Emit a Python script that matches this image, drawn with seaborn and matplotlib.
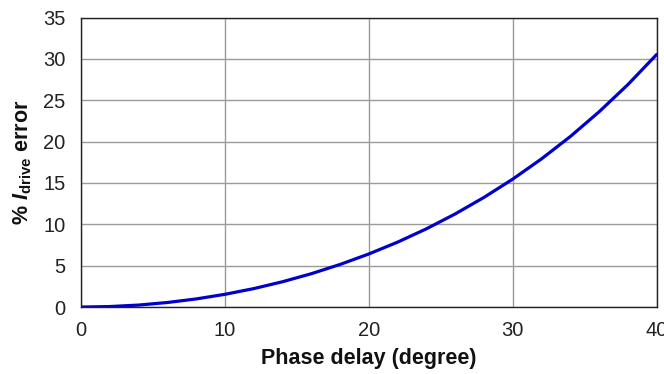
import matplotlib
matplotlib.use("Agg")
import matplotlib.pyplot as plt
import seaborn as sns
import pandas as pd

phase_delay = [0, 2, 4, 6, 8, 10, 12, 14, 16, 18, 20, 22, 24, 26, 28, 30, 32, 34, 36, 38, 40]
pct_error = [0.0, 0.06, 0.24, 0.55, 0.98, 1.54, 2.23, 3.06, 4.03, 5.15, 6.42,
             7.85, 9.46, 11.26, 13.26, 15.47, 17.92, 20.62, 23.61, 26.90, 30.54]
x_ticks = [0, 10, 20, 30, 40]
y_ticks = [0, 5, 10, 15, 20, 25, 30, 35]

sns.set_theme(style="white")
plt.rcParams['font.family'] = ['Liberation Sans', 'DejaVu Sans']
plt.rcParams['mathtext.fontset'] = 'custom'
plt.rcParams['mathtext.rm'] = 'Liberation Sans:bold'
plt.rcParams['mathtext.it'] = 'Liberation Sans:italic:bold'
plt.rcParams['mathtext.bf'] = 'Liberation Sans:bold'

df = pd.DataFrame({"phase": phase_delay, "err": pct_error})

fig = plt.figure(figsize=(6.64, 3.74), dpi=100)
ax = fig.add_axes([0.122, 0.179, 0.867, 0.774])
sns.lineplot(data=df, x="phase", y="err", ax=ax, color="#0000CC", linewidth=2.3)

ax.set_xlim(0, 40)
ax.set_ylim(0, 35)
ax.set_xticks(x_ticks)
ax.set_yticks(y_ticks)
ax.grid(True, color="#9a9a9a", linewidth=1.0)
ax.set_axisbelow(True)
for s in ax.spines.values():
    s.set_color("#222222")
    s.set_linewidth(1.0)
ax.tick_params(axis="x", length=0, labelsize=14.5, colors="#222222", pad=10)
ax.tick_params(axis="y", length=0, labelsize=14.5, colors="#222222", pad=11)
ax.set_xlabel("Phase delay (degree)", fontsize=15.5, fontweight="bold", color="#111111", labelpad=6)
ax.set_ylabel(r"% $\mathit{I}_{\mathrm{drive}}$ error", fontsize=15.5, fontweight="bold", color="#111111", labelpad=7)

fig.savefig("out.png", dpi=100)
